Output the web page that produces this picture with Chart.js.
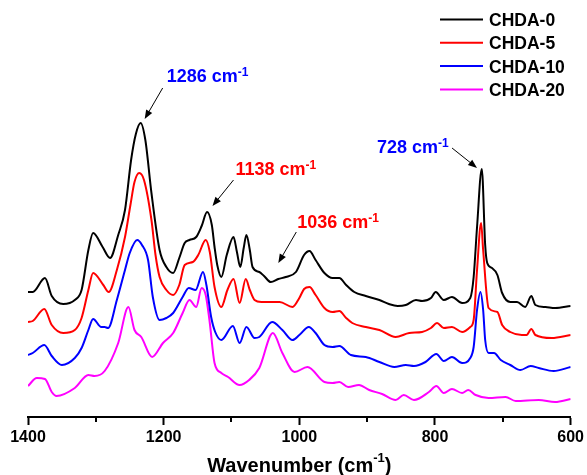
<!DOCTYPE html>
<html lang="en">
<head>
<meta charset="UTF-8" />
<title>FTIR spectra CHDA</title>
<script src="https://cdn.jsdelivr.net/npm/chart.js"></script>
<style>
  body { margin: 0; background: #fff; }
  canvas { display: block; }
</style>
</head>
<body>
<canvas id="ftir" width="587" height="475"></canvas>
<script>
  // spectra (offset traces, arbitrary units)
  const seriesNames = ['CHDA-0', 'CHDA-5', 'CHDA-10', 'CHDA-20'];
  const seriesColors = ['#000000', '#ff0000', '#0000ff', '#ff00ff'];

  const wnCHDA0 = [1400,1393,1375,1365,1348,1331,1321,1311,1304,1290,1279,1267,1257,1248,1241,1234,1227,1218,1206,1196,1186,1177,1169,1162,1152,1144,1136,1129,1125,1121,1115,1107,1097,1092,1087,1082,1078,1073,1069,1059,1052,1042,1031,1020,1005,993,985,976,963,951,941,931,919,902,882,868,855,843,828,819,806,799,787,775,760,748,743,738,731,726,723,716,708,701,689,679,667,658,652,637,623,600];
  const absCHDA0 = [125,125,139,121,113,117,127,167,184,170,159,182,207,257,283,294,277,224,167,150,144,159,174,177,180,191,205,192,170,152,140,162,180,165,150,169,182,167,150,145,141,135,138,140,145,162,166,157,144,139,139,132,125,121,117,113,111,112,117,116,119,125,117,120,114,119,140,190,248,172,154,149,142,124,115,115,110,121,112,110,109,111];

  const wnCHDA5 = [1400,1393,1376,1365,1348,1331,1321,1311,1304,1289,1281,1269,1257,1249,1243,1236,1229,1218,1212,1206,1196,1186,1177,1169,1157,1149,1138,1132,1125,1115,1106,1097,1088,1079,1073,1066,1056,1044,1029,1010,1000,993,985,976,963,951,941,931,922,902,882,858,838,819,806,797,787,775,760,748,743,738,732,729,721,708,701,689,672,665,658,652,628,600];
  const absCHDA5 = [95,96,108,92,84,87,99,127,144,132,125,147,180,212,235,244,237,197,162,140,127,122,132,152,155,162,177,165,130,110,127,138,114,138,127,117,115,115,115,110,119,128,130,122,109,105,106,99,94,90,87,80,84,85,89,94,89,90,85,90,97,147,194,167,109,105,92,85,82,82,88,82,79,82];

  const wnCHDA10 = [1400,1393,1376,1365,1350,1331,1321,1311,1304,1292,1287,1282,1269,1257,1250,1239,1232,1223,1216,1206,1196,1186,1172,1163,1153,1142,1137,1130,1124,1115,1098,1088,1078,1066,1059,1040,1025,1010,1000,986,976,963,951,941,924,902,882,860,843,831,814,798,787,775,760,748,743,738,733,729,726,721,713,703,689,674,659,647,625,600];
  const absCHDA10 = [62,64,72,61,52,59,69,87,98,90,90,89,117,147,164,177,172,157,120,97,99,104,120,129,127,145,132,100,85,77,91,74,90,79,80,95,87,77,82,90,84,72,70,71,62,60,55,50,52,51,55,63,56,60,54,59,70,107,125,107,77,64,64,57,52,47,51,49,46,50];

  const wnCHDA20 = [1400,1387,1375,1365,1358,1331,1311,1302,1287,1267,1252,1243,1233,1217,1201,1186,1172,1162,1152,1144,1138,1132,1125,1115,1105,1088,1074,1059,1039,1025,1007,988,963,951,941,928,912,897,878,858,846,831,809,798,787,775,760,751,740,721,696,681,647,623,600];
  const absCHDA20 = [31,39,38,25,21,29,42,41,46,74,110,87,80,60,74,84,104,117,110,129,122,94,54,44,40,32,37,49,84,64,45,50,35,34,35,30,32,27,23,17,22,17,25,31,24,28,24,27,22,19,20,16,17,15,18];

  const wnSeries = [wnCHDA0, wnCHDA5, wnCHDA10, wnCHDA20];
  const absSeries = [absCHDA0, absCHDA5, absCHDA10, absCHDA20];

  // x axis
  const xMin = 600, xMax = 1400, xStep = 100, xLabelStep = 200;

  // peak annotations: label, colour, arrow tip (wavenumber, value on CHDA-0)
  const annoLabels = ['1286', '1138', '1036', '728'];
  const annoColors = ['#0000ff', '#ff0000', '#ff0000', '#0000ff'];
  const annoTipWn = [1228, 1128, 1031, 738];
  const annoTipVal = [298, 211, 154, 249];

  const FONT = '"Liberation Sans", Arial, Helvetica, sans-serif';

  function supText(ctx, x, y, parts, align) {
    // parts: [text, font, rise]
    let total = 0;
    parts.forEach(p => { ctx.font = p[1]; total += ctx.measureText(p[0]).width; });
    let cx = align === 'center' ? x - total / 2 : x;
    ctx.textAlign = 'left';
    ctx.textBaseline = 'alphabetic';
    parts.forEach(p => {
      ctx.font = p[1];
      ctx.fillText(p[0], cx, y - p[2]);
      cx += ctx.measureText(p[0]).width;
    });
  }

  function arrow(ctx, x1, y1, x2, y2) {
    const a = Math.atan2(y2 - y1, x2 - x1);
    const len = 9, half = 3.5;
    ctx.strokeStyle = '#000';
    ctx.lineWidth = 1;
    ctx.beginPath();
    ctx.moveTo(x1, y1);
    ctx.lineTo(x2 - Math.cos(a) * len * 0.8, y2 - Math.sin(a) * len * 0.8);
    ctx.stroke();
    ctx.fillStyle = '#000';
    ctx.beginPath();
    ctx.moveTo(x2, y2);
    ctx.lineTo(x2 - Math.cos(a) * len - Math.sin(a) * half, y2 - Math.sin(a) * len + Math.cos(a) * half);
    ctx.lineTo(x2 - Math.cos(a) * len + Math.sin(a) * half, y2 - Math.sin(a) * len - Math.cos(a) * half);
    ctx.closePath();
    ctx.fill();
  }

  // tail / text offsets from the arrow tip, in px
  const annoTail = [[18, -31], [21, -26], [18, -31], [-25, -20]];
  const annoText = [[22, -37], [23, -31], [19, -35], [-100, -15]];

  const extras = {
    id: 'extras',
    afterDraw(chart) {
      const ctx = chart.ctx;
      const xs = chart.scales.x, ys = chart.scales.y;
      const area = chart.chartArea;
      ctx.save();

      // minor ticks
      ctx.strokeStyle = '#000';
      ctx.lineWidth = 2;
      for (let v = xMin; v <= xMax; v += xStep) {
        if (v % xLabelStep === 0) continue;
        const px = Math.round(xs.getPixelForValue(v));
        ctx.beginPath();
        ctx.moveTo(px, area.bottom);
        ctx.lineTo(px, area.bottom + 5);
        ctx.stroke();
      }

      // axis title with superscript
      ctx.fillStyle = '#000';
      supText(ctx, (area.left + area.right) / 2, 472, [
        ['Wavenumber (cm', 'bold 20px ' + FONT, 0],
        ['-1', 'bold 13px ' + FONT, 10],
        [')', 'bold 20px ' + FONT, 0]
      ], 'center');

      // peak labels and arrows
      annoLabels.forEach((lab, i) => {
        const tx = xs.getPixelForValue(annoTipWn[i]);
        const ty = ys.getPixelForValue(annoTipVal[i]);
        arrow(ctx, tx + annoTail[i][0], ty + annoTail[i][1], tx, ty);
        ctx.fillStyle = annoColors[i];
        supText(ctx, tx + annoText[i][0], ty + annoText[i][1], [
          [lab + ' cm', 'bold 18px ' + FONT, 0],
          ['-1', 'bold 12px ' + FONT, 6]
        ], 'left');
      });

      // legend
      seriesNames.forEach((name, i) => {
        const y = 19.5 + i * 23.3;
        ctx.strokeStyle = seriesColors[i];
        ctx.lineWidth = 2;
        ctx.beginPath();
        ctx.moveTo(440, y);
        ctx.lineTo(483, y);
        ctx.stroke();
        ctx.fillStyle = '#000';
        ctx.font = 'bold 17.5px ' + FONT;
        ctx.textAlign = 'left';
        ctx.textBaseline = 'alphabetic';
        ctx.fillText(name, 489, y + 6.5);
      });
      ctx.restore();
    }
  };

  const datasets = seriesNames.map((name, i) => ({
    label: name,
    data: wnSeries[i].map((w, j) => ({ x: w, y: absSeries[i][j] })),
    borderColor: seriesColors[i],
    borderWidth: 2,
    pointRadius: 0,
    fill: false,
    cubicInterpolationMode: 'monotone'
  }));

  new Chart(document.getElementById('ftir').getContext('2d'), {
    type: 'line',
    data: { datasets },
    options: {
      responsive: false,
      animation: false,
      devicePixelRatio: 1,
      layout: { padding: { top: 17, left: 28, right: 15, bottom: 0 } },
      plugins: {
        legend: { display: false },
        tooltip: { enabled: false }
      },
      scales: {
        x: {
          type: 'linear',
          reverse: true,
          min: xMin,
          max: xMax,
          afterFit: s => { s.height = 58; },
          border: { display: true, color: '#000', width: 2 },
          grid: {
            drawOnChartArea: false,
            drawTicks: true,
            tickLength: 8,
            tickWidth: 2,
            tickColor: c => (c.tick && c.tick.value % xLabelStep === 0) ? '#000' : 'rgba(0,0,0,0)'
          },
          ticks: {
            stepSize: xStep,
            autoSkip: false,
            maxRotation: 0,
            padding: 3,
            color: '#000',
            font: { family: FONT, size: 16, weight: 'bold' },
            callback: v => (v % xLabelStep === 0 ? v : '')
          }
        },
        y: {
          display: false,
          min: 0,
          max: 400
        }
      }
    },
    plugins: [extras]
  });
</script>
</body>
</html>
